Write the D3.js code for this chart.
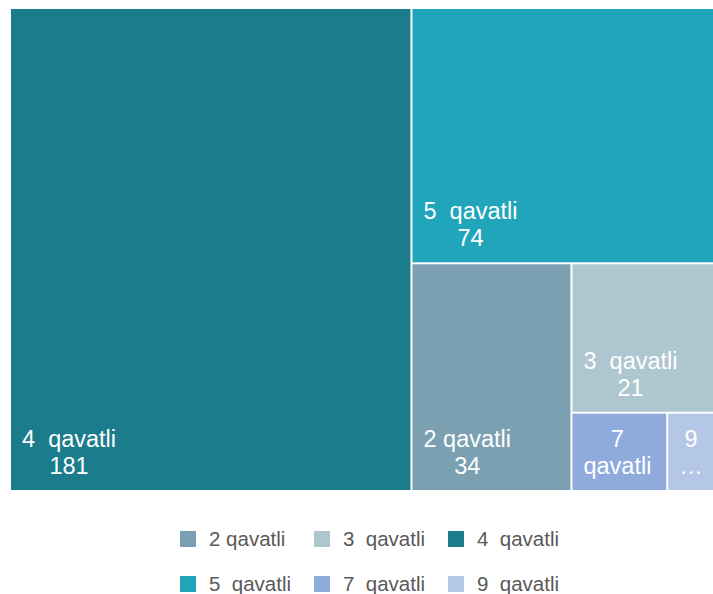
<!DOCTYPE html>
<html>
<head>
<meta charset="utf-8">
<script src="https://cdn.jsdelivr.net/npm/d3@7"></script>
<style>
  body { margin: 0; background: #fff; }
  svg { display: block; font-family: "Liberation Sans", Arial, sans-serif; }
</style>
</head>
<body>
<svg id="chart" width="713" height="594"></svg>
<script>
// categories / values / colours
const categories = ["2 qavatli", "3  qavatli", "4  qavatli", "5  qavatli", "7  qavatli", "9  qavatli"];
const values = [34, 21, 181, 74, 7, 4];
const colors = ["#7AA0B1", "#ADC6D0", "#1B7D8C", "#20A5BB", "#8FAADC", "#B4C7E7"];

const svg = d3.select("#chart");

// treemap area (runs a bit past the right edge like the original)
const box = {x: 11, y: 9, w: 710, h: 481};

const color = d3.scaleOrdinal().domain(categories).range(colors);

const root = d3.hierarchy({children: categories.map((c, i) => ({name: c, value: values[i]}))})
    .sum(d => d.value)
    .sort((a, b) => b.value - a.value);

d3.treemap()
    .tile(d3.treemapSquarify.ratio(1))
    .size([box.w, box.h])
    .paddingInner(2)(root);

const cell = svg.append("g")
    .attr("transform", `translate(${box.x},${box.y})`)
    .selectAll("g")
    .data(root.leaves())
    .join("g")
    .attr("transform", d => `translate(${d.x0},${d.y0})`);

cell.append("rect")
    .attr("width", d => d.x1 - d.x0)
    .attr("height", d => d.y1 - d.y0)
    .attr("fill", d => color(d.data.name));

const fs = 23.5, lineH = 27, pad = 11;

// labels: name + value, bottom-left; wrap / drop value for small cells
cell.each(function(d) {
    const g = d3.select(this);
    const w = d.x1 - d.x0, h = d.y1 - d.y0;
    const probe = g.append("text").attr("font-size", fs).style("white-space", "pre");
    const measure = s => { probe.text(s); return probe.node().getComputedTextLength(); };

    let lines;
    if (measure(d.data.name) + 2 * pad <= w) {
        lines = [d.data.name, String(d.data.value)];
    } else {
        lines = d.data.name.split(/\s+/).map(s => measure(s) + 8 <= w ? s : "…");
    }
    const maxW = d3.max(lines, measure);
    probe.remove();

    const cx = maxW + 2 * pad <= w ? pad + maxW / 2 : w / 2;
    const txt = g.append("text")
        .attr("font-size", fs)
        .attr("fill", "#fff")
        .attr("text-anchor", "middle")
        .style("white-space", "pre");
    txt.selectAll("tspan")
        .data(lines)
        .join("tspan")
        .attr("x", cx)
        .attr("y", (s, i) => h - 16 - (lines.length - 1 - i) * lineH)
        .text(s => s);
});

// legend
const legend = svg.append("g")
    .selectAll("g")
    .data(categories)
    .join("g")
    .attr("transform", (c, i) => `translate(${180 + (i % 3) * 134},${531 + Math.floor(i / 3) * 45})`);

legend.append("rect")
    .attr("width", 16)
    .attr("height", 16)
    .attr("fill", c => color(c));

legend.append("text")
    .attr("x", 29)
    .attr("y", 15)
    .attr("font-size", 20.5)
    .attr("fill", "#595959")
    .style("white-space", "pre")
    .text(c => c);
</script>
</body>
</html>
